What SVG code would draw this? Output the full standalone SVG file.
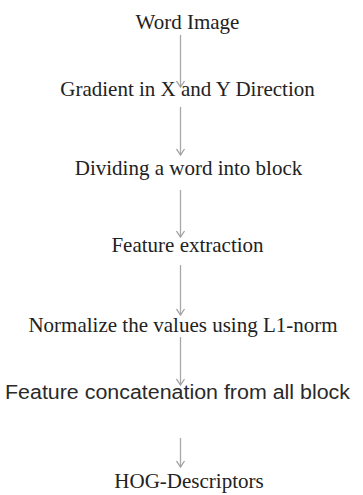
<svg xmlns="http://www.w3.org/2000/svg" width="363" height="495" viewBox="0 0 363 495">
  <style>
    .step { font-family: "Liberation Serif", "Times New Roman", serif; font-size: 21px; fill: #222; text-anchor: middle; }
    .sans { font-family: "Liberation Sans", Arial, sans-serif; font-size: 20px; fill: #2a2a2a; }
    .flow { stroke: #a8a8a8; stroke-width: 1.3; fill: none; }
  </style>
  <defs>
    <!-- small open V head, drawn along +x so orient="auto" turns it down the line -->
    <marker id="head" viewBox="0 0 10 10" refX="9" refY="5" markerWidth="10" markerHeight="10" markerUnits="userSpaceOnUse" orient="auto">
      <path d="M3,1 L9,5 L3,9" fill="none" stroke="#a0a0a0" stroke-width="1.3"/>
    </marker>
  </defs>
  <rect width="363" height="495" fill="#ffffff"/>

  <g id="connectors">
    <line class="flow" x1="180.5" y1="35" x2="180.5" y2="87" marker-end="url(#head)"/>
    <line class="flow" x1="180.5" y1="107" x2="180.5" y2="155" marker-end="url(#head)"/>
    <line class="flow" x1="180.5" y1="190" x2="180.5" y2="237" marker-end="url(#head)"/>
    <line class="flow" x1="180.5" y1="265" x2="180.5" y2="315" marker-end="url(#head)"/>
    <line class="flow" x1="180.5" y1="337" x2="180.5" y2="385" marker-end="url(#head)"/>
    <line class="flow" x1="180.5" y1="438" x2="180.5" y2="467" marker-end="url(#head)"/>
  </g>

  <g id="word-image"><text class="step" x="187.5" y="29">Word Image</text></g>
  <g id="gradient"><text class="step" x="187.5" y="96">Gradient in X and Y Direction</text></g>
  <g id="dividing"><text class="step" x="188.5" y="175">Dividing a word into block</text></g>
  <g id="feature-extraction"><text class="step" x="187.5" y="252">Feature extraction</text></g>
  <g id="normalize"><text class="step" x="183" y="332">Normalize the values using L1-norm</text></g>
  <g id="concatenation"><text class="sans" x="5" y="399" textLength="345" lengthAdjust="spacingAndGlyphs">Feature concatenation from all block</text></g>
  <g id="hog"><text class="step" x="189" y="488">HOG-Descriptors</text></g>
</svg>
